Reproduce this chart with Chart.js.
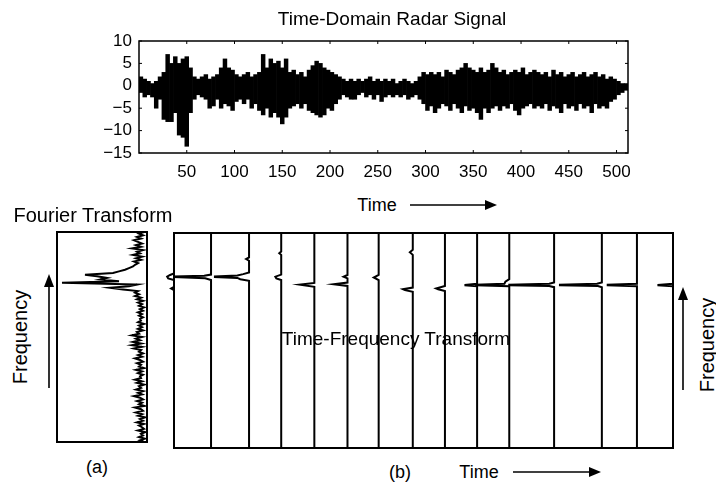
<!DOCTYPE html>
<html>
<head>
<meta charset="utf-8">
<script src="https://cdn.jsdelivr.net/npm/chart.js@4.4.1/dist/chart.umd.min.js"></script>
<style>
  html, body { margin: 0; padding: 0; background: #fff; }
  #page { position: relative; width: 716px; height: 486px; overflow: hidden; font-family: "Liberation Sans", Arial, sans-serif; color: #000; }
  canvas { position: absolute; }
  .lbl { position: absolute; white-space: nowrap; line-height: 1; transform: translate(-50%, -50%); }
  .rot { transform: translate(-50%, -50%) rotate(-90deg); }
  svg { position: absolute; left: 0; top: 0; }
</style>
</head>
<body>
<div id="page">
  <canvas id="signalChart" width="716" height="190" style="left:0;top:0"></canvas>
  <canvas id="fourierChart" width="110" height="230" style="left:47px;top:222px"></canvas>
  <canvas id="tfChart" width="519" height="235" style="left:164px;top:223px"></canvas>

  <div class="lbl" style="left:392px;top:18px;font-size:19px">Time-Domain Radar Signal</div>
  <div class="lbl" style="left:377px;top:205px;font-size:18px">Time</div>
  <div class="lbl" style="left:93px;top:215px;font-size:20px">Fourier Transform</div>
  <div class="lbl rot" style="left:20px;top:337px;font-size:20px">Frequency</div>
  <div class="lbl" style="left:97px;top:467px;font-size:18px">(a)</div>
  <div class="lbl" style="left:396px;top:338px;font-size:19px">Time-Frequency Transform</div>
  <div class="lbl" style="left:400px;top:472px;font-size:18px">(b)</div>
  <div class="lbl" style="left:479px;top:472px;font-size:18px">Time</div>
  <div class="lbl rot" style="left:707px;top:345px;font-size:20px">Frequency</div>

  <svg width="716" height="486">
    <g stroke="#000" stroke-width="1.6" fill="#000">
      <line x1="410" y1="205" x2="488" y2="205"/>
      <polygon points="497,205 485,200 485,210" stroke="none"/>
      <line x1="513" y1="472" x2="592" y2="472"/>
      <polygon points="601,472 589,467 589,477" stroke="none"/>
      <line x1="49" y1="388" x2="49" y2="284"/>
      <polygon points="49,274 44,287 54,287" stroke="none"/>
      <line x1="683" y1="390" x2="683" y2="297"/>
      <polygon points="683,287 678,300 688,300" stroke="none"/>
    </g>
  </svg>
</div>

<script>
// radar return, high/low excursion in each block of 4 samples (sample 0..511)
const sigHi = [
  2, 1.5, 1, 0.5, 1, 2, 3, 7, 5, 6.5, 5, 6, 6.5, 4, 2, 1.5,
  2, 2.5, 1.5, 2, 2.5, 4, 6, 4, 3.5, 2.5, 2, 2.5, 3, 2, 2.5, 3,
  7, 4, 6, 5, 5.5, 4, 6, 3, 3.5, 2.5, 3, 2, 3.5, 4.5, 5.5, 5,
  4, 3.5, 3, 2.5, 2, 1.5, 1, 1.5, 1, 1.5, 1, 1.5, 2, 1, 1.5, 1,
  1.5, 1, 1.5, 0.5, 1, 1.5, 1, 0.5, 1, 2, 3, 2.5, 3, 2.5, 3, 2,
  3.5, 3, 2.5, 3.5, 4, 5, 4, 3.5, 3, 4, 3, 3.5, 5, 4, 3, 3.5,
  2.5, 3, 3.5, 3, 4, 2.5, 3, 3.5, 3, 2.5, 3, 2, 3.5, 2.5, 3, 2,
  2.5, 3, 2, 2.5, 3, 2, 2.5, 3, 2, 2.5, 1.5, 2, 1.5, 1, 0.5, 0.5
];
const sigLo = [
  -1.5, -2.5, -2, -2.5, -5, -3, -7.5, -8, -8, -6, -11, -11.5, -13.5, -6, -3, -2,
  -2.5, -3, -5, -4.5, -3, -5, -4, -4.5, -5.5, -3.5, -3, -4, -3, -5, -4, -5.5,
  -6.5, -5, -7, -6, -7, -8.5, -7, -5, -4.5, -4, -5, -4, -5.5, -6, -6.5, -7,
  -6.5, -5, -5.5, -4, -3, -2, -2.5, -3, -3, -2, -1.5, -2.5, -2, -3, -2, -3.5,
  -2.5, -2, -2.5, -2, -2.5, -2, -3, -2.5, -2, -3, -4, -5.5, -4.5, -6, -5, -4,
  -4.5, -5.5, -4, -5, -6, -4.5, -5.5, -5, -6, -7.5, -5, -6, -5, -4.5, -5.5, -4.5,
  -5, -4, -5.5, -6.5, -5, -4.5, -4, -5, -4.5, -5, -4, -5.5, -4.5, -5, -6, -4,
  -5, -4.5, -5.5, -4, -5, -4.5, -6, -4, -5, -4.5, -5, -3.5, -3, -2, -1.5, -1
];
const sigTicksX = [50, 100, 150, 200, 250, 300, 350, 400, 450, 500];
const sigTicksY = [-15, -10, -5, 0, 5, 10];

// Fourier magnitude over frequency bins 0, 2, 4 ... 256
const ftFreq = Array.from({ length: 129 }, (_, i) => i * 2);
const ftMag = [
  3, 7, 2, 8, 4, 6, 2, 9, 3, 5,
  8, 3, 10, 4, 7, 2, 9, 5, 11, 4,
  6, 12, 3, 8, 5, 10, 4, 7, 13, 5,
  9, 4, 11, 6, 8, 3, 10, 5, 12, 6,
  7, 4, 9, 5, 11, 3, 8, 6, 10, 4,
  7, 12, 5, 9, 4, 8, 6, 13, 5, 15,
  6, 14, 7, 11, 5, 15, 8, 10, 4, 9,
  5, 8, 3, 9, 6, 7, 4, 8, 5, 9,
  4, 7, 3, 8, 5, 9, 4, 10, 6, 12,
  8, 12, 9, 24, 37, 18, 10, 85, 28, 47,
  40, 50, 62, 34, 28, 22, 18, 14, 12, 9,
  13, 6, 11, 5, 14, 7, 10, 4, 15, 6,
  11, 5, 9, 13, 6, 10, 4, 8, 3
];

// time-frequency slices: slice time, then [frequency bin, magnitude] peaks
const tfTimes = [0, 38, 77, 110, 144, 178, 210, 245, 278, 311, 344, 390, 439, 475, 512];
const tfSpectra = [
  [[188, 0], [190, 3], [192, 0], [200, 0], [202, 6], [204, 7], [206, 4], [208, 0]],
  [[200, 0], [202, 6], [203.6, 38], [204.2, 38], [205, 7], [206.5, 0]],
  [[199, 0], [201, 9], [202.5, 12], [203.6, 35], [204.2, 35], [205.5, 12], [207, 6], [209, 0], [223, 0], [225, 3], [227, 0]],
  [[200, 0], [202, 5], [204, 6], [206.5, 0], [230, 0], [232, 2], [234, 0]],
  [[192, 0], [194.5, 15], [196.5, 0]],
  [[193, 0], [195, 14], [197, 0], [202, 0], [204, 4], [206, 0]],
  [[200, 0], [203, 5], [206, 0]],
  [[186, 0], [188, 8], [189, 10], [191, 0], [230, 0], [233, 3], [236, 0]],
  [[187, 0], [189, 7], [190, 9], [193, 0]],
  [[192.5, 0], [193.7, 12], [194.3, 12], [195.5, 0]],
  [[192.5, 0], [193.7, 34], [194.3, 34], [195.5, 5], [198, 4], [201, 0]],
  [[191.5, 0], [192.8, 5], [193.7, 46], [194.3, 46], [195.5, 5], [197, 0]],
  [[191.5, 0], [192.8, 4], [193.7, 43], [194.3, 43], [195.5, 5], [197, 0]],
  [[192.5, 0], [193.7, 30], [194.3, 30], [195.5, 0]],
  [[192.5, 0], [193.7, 15], [194.3, 15], [195.5, 0]]
];
const FREQ_MAX = 256;

const FONT = '"Liberation Sans", Arial, sans-serif';

// box around the plot area, with short inward ticks where asked
const framePlugin = {
    id: 'frame',
    afterDatasetsDraw(chart, args, opts) {
        const { ctx, chartArea: a, scales } = chart;
        ctx.save();
        ctx.strokeStyle = '#000';
        ctx.lineWidth = opts.width || 1.5;
        ctx.strokeRect(a.left, a.top, a.right - a.left, a.bottom - a.top);
        if (opts.ticks) {
            ctx.lineWidth = 1;
            ctx.beginPath();
            sigTicksX.forEach(v => {
                const px = scales.x.getPixelForValue(v);
                ctx.moveTo(px, a.bottom); ctx.lineTo(px, a.bottom - 3);
                ctx.moveTo(px, a.top); ctx.lineTo(px, a.top + 3);
            });
            sigTicksY.forEach(v => {
                const py = scales.y.getPixelForValue(v);
                ctx.moveTo(a.left, py); ctx.lineTo(a.left + 3, py);
                ctx.moveTo(a.right, py); ctx.lineTo(a.right - 3, py);
            });
            ctx.stroke();
        }
        ctx.restore();
    }
};

const hiddenScale = { display: false, grid: { display: false } };

// top: time-domain signal, drawn as its min/max excursion per block
new Chart(document.getElementById('signalChart'), {
    type: 'bar',
    data: {
        datasets: [{
            data: sigHi.map((hi, i) => ({ x: i * 4 + 2, y: [sigLo[i], hi] })),
            backgroundColor: '#000',
            borderWidth: 0,
            barPercentage: 1,
            categoryPercentage: 1
        }]
    },
    options: {
        responsive: false,
        animation: false,
        events: [],
        layout: { padding: { left: 89, top: 41, right: 88, bottom: 7 } },
        plugins: { legend: { display: false }, tooltip: { enabled: false }, frame: { ticks: true, width: 1.5 } },
        scales: {
            x: {
                type: 'linear', min: 0, max: 512, offset: false,
                grid: { display: false, drawTicks: false },
                border: { display: false },
                afterBuildTicks: s => { s.ticks = sigTicksX.map(v => ({ value: v })); },
                afterFit: s => { s.height = 30; },
                ticks: { color: '#000', font: { family: FONT, size: 17 }, padding: 9, maxRotation: 0, autoSkip: false }
            },
            y: {
                min: -15, max: 10,
                grid: { display: false, drawTicks: false },
                border: { display: false },
                afterBuildTicks: s => { s.ticks = sigTicksY.map(v => ({ value: v })); },
                afterFit: s => { s.width = 50; },
                ticks: {
                    color: '#000', font: { family: FONT, size: 17 }, padding: 7, autoSkip: false,
                    callback: v => String(v).replace('-', '\u2212')
                }
            }
        }
    },
    plugins: [framePlugin]
});

// (a): spectrum hanging off the right edge, frequency upwards
new Chart(document.getElementById('fourierChart'), {
    type: 'scatter',
    data: {
        datasets: [{
            data: ftMag.map((m, i) => ({ x: m, y: ftFreq[i] })),
            showLine: true,
            borderColor: '#000',
            borderWidth: 2,
            pointRadius: 0
        }]
    },
    options: {
        responsive: false,
        animation: false,
        events: [],
        layout: { padding: 10 },
        plugins: { legend: { display: false }, tooltip: { enabled: false }, frame: { width: 2 } },
        scales: {
            x: { ...hiddenScale, type: 'linear', min: 0, max: 90, reverse: true },
            y: { ...hiddenScale, type: 'linear', min: 0, max: FREQ_MAX }
        }
    },
    plugins: [framePlugin]
});

// (b): one spectrum per time slice, baseline at the slice time
const tfDatasets = tfTimes.map((t, k) => ({
    data: [{ x: t, y: 0 }]
        .concat(tfSpectra[k].map(([f, m]) => ({ x: t - m, y: f })))
        .concat([{ x: t, y: FREQ_MAX }]),
    showLine: true,
    borderColor: '#000',
    borderWidth: 2,
    pointRadius: 0,
    clip: false
}));

new Chart(document.getElementById('tfChart'), {
    type: 'scatter',
    data: { datasets: tfDatasets },
    options: {
        responsive: false,
        animation: false,
        events: [],
        layout: { padding: 10 },
        plugins: { legend: { display: false }, tooltip: { enabled: false }, frame: { width: 2 } },
        scales: {
            x: { ...hiddenScale, type: 'linear', min: 0, max: 512 },
            y: { ...hiddenScale, type: 'linear', min: 0, max: FREQ_MAX }
        }
    },
    plugins: [framePlugin]
});
</script>
</body>
</html>
